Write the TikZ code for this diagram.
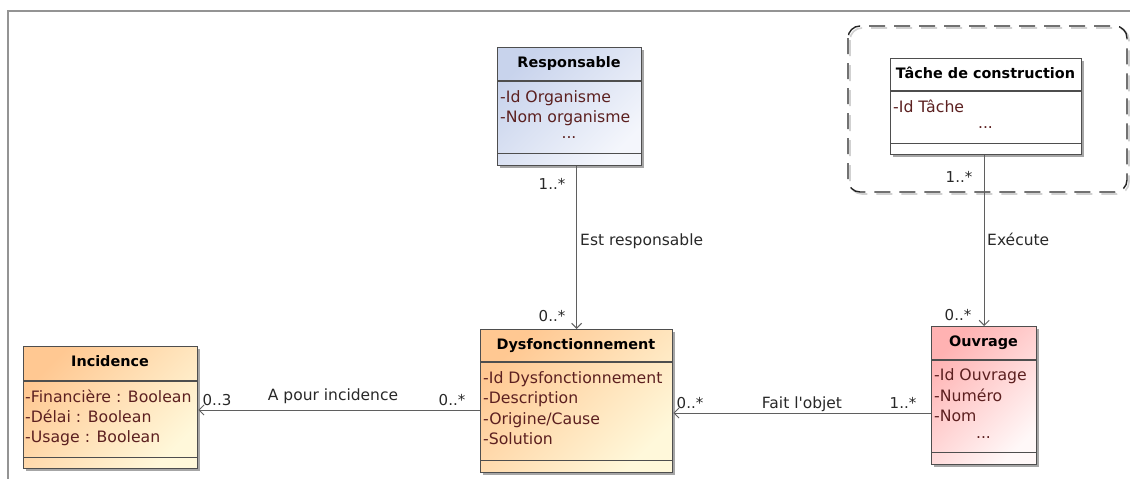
\documentclass[tikz,border=0pt]{standalone}
\usepackage{fontspec}
\setmainfont{DejaVu Sans}[Ligatures=TeXOff]
\usetikzlibrary{arrows.meta,shadows,calc}
\definecolor{attrc}{RGB}{92,32,32}
\definecolor{bordc}{RGB}{78,78,78}
\definecolor{linec}{RGB}{95,95,95}
\definecolor{bluea}{RGB}{200,211,236}
\definecolor{blueb}{RGB}{244,246,252}
\definecolor{orga}{RGB}{255,200,146}
\definecolor{orgb}{RGB}{255,248,218}
\definecolor{pinka}{RGB}{255,178,178}
\definecolor{pinkb}{RGB}{255,248,248}
\definecolor{framec}{RGB}{148,148,148}
\definecolor{txtc}{RGB}{40,40,40}
\tikzset{
  classbox/.style={rectangle, draw=bordc, line width=1.3pt, anchor=north west, inner sep=0pt,
    drop shadow={shadow xshift=2.5pt, shadow yshift=-2.5pt, opacity=0.35, fill=black}},
  blueshade/.style={top color=bluea, bottom color=blueb, shading angle=45},
  orangeshade/.style={top color=orga, bottom color=orgb, shading angle=45},
  pinkshade/.style={top color=pinka, bottom color=pinkb, shading angle=45},
  whitefill/.style={fill=white},
  sepline/.style={draw=bordc, line width=1.1pt},
  ctitle/.style={font=\bfseries\fontsize{14.4}{16}\selectfont, text=black, anchor=base, inner sep=0pt},
  cattr/.style={font=\fontsize{15.7}{18}\selectfont, text=attrc, anchor=base west, inner sep=0pt},
  cdots/.style={font=\fontsize{15.5}{18}\selectfont, text=attrc, anchor=base, inner sep=0pt},
  assoc/.style={draw=linec, line width=1pt, -{Straight Barb[length=5pt,width=10pt]}},
  mult/.style={font=\fontsize{15}{18}\selectfont, text=txtc, anchor=base, inner sep=0pt},
  lbl/.style={font=\fontsize{15.5}{18}\selectfont, text=txtc, inner sep=0pt},
  groupframe/.style={draw=black!85, line width=1.4pt, dash pattern=on 16pt off 9pt, rounded corners=12pt},
  groupshadow/.style={draw=black!18, line width=1.6pt, dash pattern=on 16pt off 9pt, rounded corners=12pt},
}
\begin{document}
\begin{tikzpicture}[x=1pt,y=-1pt]
\useasboundingbox (0,0) rectangle (1130,479);
% outer frame
\draw[framec, line width=1.5pt] (8,479) -- (8,11) -- (1130,11);

% group (dashed)
\draw[groupshadow] (850,28) rectangle (1129,194);
\draw[groupframe] (848,26) rectangle (1127,192);

% Responsable
\node[classbox, blueshade, minimum width=144pt, minimum height=118pt] (resp) at (497,47) {};
\draw[sepline] ([yshift=-34pt]resp.north west) -- ([yshift=-34pt]resp.north east);
\draw[sepline] ([yshift=13pt]resp.south west) -- ([yshift=13pt]resp.south east);
\node[ctitle] (respT) at (569,67) {Responsable};
\node[cattr] (respA1) at (500,102) {-Id Organisme};
\node[cattr] (respA2) at (500,122) {-Nom organisme};
\node[cdots] (respA3) at (569,138) {...};

% Tache de construction
\node[classbox, whitefill, minimum width=191pt, minimum height=96pt] (tache) at (890,58) {};
\draw[sepline] ([yshift=-33pt]tache.north west) -- ([yshift=-33pt]tache.north east);
\draw[sepline] ([yshift=12pt]tache.south west) -- ([yshift=12pt]tache.south east);
\node[ctitle] (tacheT) at (985.5,78) {Tâche de construction};
\node[cattr] (tacheA1) at (893,112) {-Id Tâche};
\node[cdots] (tacheA2) at (985.5,128) {...};

% Ouvrage
\node[classbox, pinkshade, minimum width=105pt, minimum height=138pt] (ouv) at (931,326) {};
\draw[sepline] ([yshift=-34pt]ouv.north west) -- ([yshift=-34pt]ouv.north east);
\draw[sepline] ([yshift=13pt]ouv.south west) -- ([yshift=13pt]ouv.south east);
\node[ctitle] (ouvT) at (983.5,346) {Ouvrage};
\node[cattr] (ouvA1) at (934,380) {-Id Ouvrage};
\node[cattr] (ouvA2) at (934,401) {-Numéro};
\node[cattr] (ouvA3) at (934,421) {-Nom};
\node[cdots] (ouvA4) at (983.5,438) {...};

% Dysfonctionnement
\node[classbox, orangeshade, minimum width=192pt, minimum height=143pt] (dysf) at (480,329) {};
\draw[sepline] ([yshift=-33pt]dysf.north west) -- ([yshift=-33pt]dysf.north east);
\draw[sepline] ([yshift=13pt]dysf.south west) -- ([yshift=13pt]dysf.south east);
\node[ctitle] (dysfT) at (576,349) {Dysfonctionnement};
\node[cattr] (dysfA1) at (483,383) {-Id Dysfonctionnement};
\node[cattr] (dysfA2) at (483,403) {-Description};
\node[cattr] (dysfA3) at (483,424) {-Origine/Cause};
\node[cattr] (dysfA4) at (483,444) {-Solution};

% Incidence
\node[classbox, orangeshade, minimum width=174pt, minimum height=122pt] (inc) at (23,346) {};
\draw[sepline] ([yshift=-35pt]inc.north west) -- ([yshift=-35pt]inc.north east);
\draw[sepline] ([yshift=12pt]inc.south west) -- ([yshift=12pt]inc.south east);
\node[ctitle] (incT) at (110,366) {Incidence};
\node[cattr] (incA1) at (25,402) {-Financière : Boolean};
\node[cattr] (incA2) at (25,422) {-Délai : Boolean};
\node[cattr] (incA3) at (25,442) {-Usage : Boolean};

% connectors
\coordinate (incY) at (0,410);
\coordinate (objY) at (0,413);
\draw[assoc] (dysf.north |- resp.south) -- (dysf.north);
\draw[assoc] (ouv.north |- tache.south) -- (ouv.north);
\draw[assoc] (dysf.west |- incY) -- (inc.east |- incY);
\draw[assoc] (ouv.west |- objY) -- (dysf.east |- objY);

% labels
\node[mult] (m1) at (552,189) {1..*};
\node[mult] (m2) at (552,321) {0..*};
\node[lbl, anchor=base west] (l1) at (580,245) {Est responsable};

\node[mult] (m3) at (959,182) {1..*};
\node[mult] (m4) at (958,320) {0..*};
\node[lbl, anchor=base west] (l2) at (987,245) {Exécute};

\node[mult] (m5) at (217,405) {0..3};
\node[mult] (m6) at (452,405) {0..*};
\node[lbl, anchor=base] (l3) at (333,400) {A pour incidence};

\node[mult] (m7) at (690,408) {0..*};
\node[mult] (m8) at (903,408) {1..*};
\node[lbl, anchor=base] (l4) at (802,408) {Fait l'objet};
\end{tikzpicture}
\end{document}
